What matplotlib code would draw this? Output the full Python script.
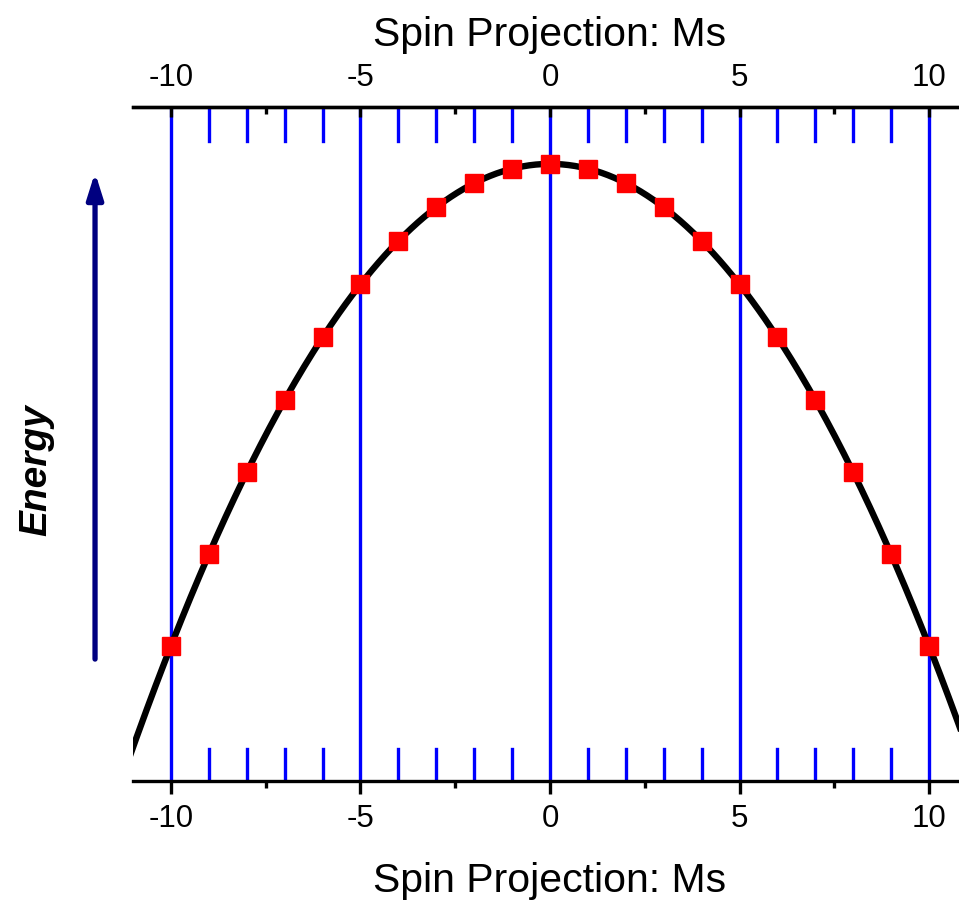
import numpy as np
import matplotlib.pyplot as plt

plt.rcParams['font.family'] = ['Liberation Sans', 'DejaVu Sans']
plt.rcParams['axes.unicode_minus'] = False

# spin projection and energy (arbitrary units) of the levels
ms = [-10, -9, -8, -7, -6, -5, -4, -3, -2, -1, 0, 1, 2, 3, 4, 5, 6, 7, 8, 9, 10]
energy = [-100, -81, -64, -49, -36, -25, -16, -9, -4, -1, 0,
          -1, -4, -9, -16, -25, -36, -49, -64, -81, -100]
major_ticks = [-10, -5, 0, 5, 10]
minor_ticks = [-7.5, -2.5, 2.5, 7.5]

fig = plt.figure(figsize=(9.59, 9.03), dpi=100)
ax = fig.add_axes([0.1387, 0.134, 1.0083 - 0.1387, 0.8804 - 0.134])

# fitted curve through the levels
coef = np.polyfit(ms, energy, 2)
xf = np.linspace(-11.5, 11.5, 400)
ax.plot(xf, np.polyval(coef, xf), color='black', lw=4.6, zorder=3)
ax.plot(ms, energy, 's', color='red', ms=13.5, mec='red', zorder=4)

# blue level lines
for m in ms:
    if m in major_ticks:
        ax.axvline(m, color='#0000ff', lw=2.4, zorder=2)
    else:
        ax.axvline(m, ymin=0.949, ymax=1, color='#0000ff', lw=2.4, zorder=2)
        ax.axvline(m, ymin=0, ymax=0.0475, color='#0000ff', lw=2.4, zorder=2)

ax.set_xlim(-11, 11)
ax.set_ylim(-128, 11.8)
ax.set_yticks([])
for s in ['left', 'right']:
    ax.spines[s].set_visible(False)
for s in ['top', 'bottom']:
    ax.spines[s].set_linewidth(2.4)

ax.set_xticks(major_ticks)
ax.set_xticks(minor_ticks, minor=True)
ax.tick_params(axis='x', which='major', direction='out', length=9, width=2.4,
               labelsize=22.5, pad=7)
ax.tick_params(axis='x', which='minor', direction='out', length=5, width=2.4)
ax.set_xlabel('Spin Projection: Ms', fontsize=29.5, labelpad=20)

top = ax.twiny()
top.set_xlim(-11, 11)
top.set_xticks(major_ticks)
top.set_xticks(minor_ticks, minor=True)
top.tick_params(axis='x', which='major', direction='in', length=7, width=2.4,
                labelsize=22.5, pad=11)
top.tick_params(axis='x', which='minor', direction='in', length=5, width=2.4)
top.set_xlabel('Spin Projection: Ms', fontsize=29.5, labelpad=12)
for s in ['left', 'right', 'bottom']:
    top.spines[s].set_visible(False)
top.spines['top'].set_linewidth(2.4)

# energy arrow and label
fig.text(0.0375, 0.4795, 'Energy', rotation=90, fontsize=28, fontweight='bold',
         fontstyle='italic', ha='center', va='center')
ax.annotate('', xy=(0.0991, 0.808), xytext=(0.0991, 0.269),
            xycoords='figure fraction', textcoords='figure fraction',
            arrowprops=dict(arrowstyle='-|>,head_length=0.7,head_width=0.22',
                            color='#000080', lw=3.8, mutation_scale=22,
                            shrinkA=0, shrinkB=0))

fig.savefig('out.png', dpi=100)
